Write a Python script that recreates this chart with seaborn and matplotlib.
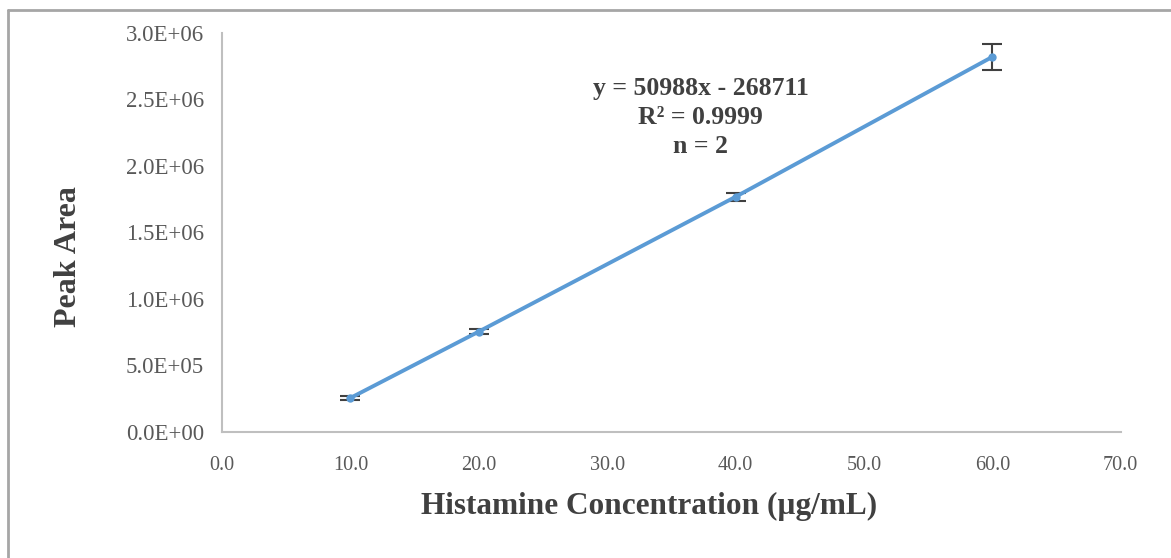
import numpy as np
import pandas as pd
import seaborn as sns
import matplotlib.pyplot as plt
from matplotlib.lines import Line2D

# %% data
conc = [10.0, 20.0, 40.0, 60.0]
peak_area = [2.56e5, 7.55e5, 1.768e6, 2.82e6]
peak_err = [1.2e4, 2.0e4, 3.0e4, 1.0e5]
x_ticks = [0, 10, 20, 30, 40, 50, 60, 70]
y_ticks = [0, 5e5, 1e6, 1.5e6, 2e6, 2.5e6, 3e6]
eq_text = "y = 50988x - 268711\nR\u00b2 = 0.9999\nn = 2"

df = pd.DataFrame({'conc': conc, 'area': peak_area})

# %% plot
sns.set_theme(style='white')
plt.rcParams['font.family'] = ['Liberation Serif', 'DejaVu Serif']

fig = plt.figure(figsize=(11.71, 5.58), dpi=100)
ax = fig.add_axes([0.1896, 0.2258, 0.7674, 0.7151])

blue = '#5B9BD5'
grey_txt = '#595959'

ax.errorbar(df['conc'], df['area'], yerr=peak_err, fmt='none',
            ecolor='#404040', elinewidth=1.5, capsize=7, capthick=1.5, zorder=2)
sns.lineplot(data=df, x='conc', y='area', ax=ax, color=blue, linewidth=2.8,
             marker='o', markersize=6, markeredgewidth=0, zorder=3)

ax.set_xlim(0, 70)
ax.set_ylim(0, 3e6)
ax.set_xticks(x_ticks)
ax.set_xticklabels(['{:.1f}'.format(v) for v in x_ticks])
ax.set_yticks(y_ticks)
ax.set_yticklabels(['{:.1E}'.format(v) for v in y_ticks])
ax.tick_params(axis='both', colors=grey_txt, length=0)
ax.tick_params(axis='x', labelsize=14.5, pad=17)
ax.tick_params(axis='y', labelsize=16.5, pad=13)

for s in ['top', 'right']:
    ax.spines[s].set_visible(False)
for s in ['left', 'bottom']:
    ax.spines[s].set_color('#BFBFBF')
    ax.spines[s].set_linewidth(1.5)

ax.set_xlabel('Histamine Concentration (\u00b5g/mL)', fontsize=22.5, fontweight='bold',
              color='#404040')
ax.xaxis.set_label_coords(0.475, -0.15)
ax.set_ylabel('Peak Area', fontsize=23, fontweight='bold', color='#404040')
ax.yaxis.set_label_coords(-0.155, 0.44)

ax.text(37.3, 2.67e6, eq_text, ha='center', va='top', fontsize=18.5,
        fontweight='bold', color='#404040', linespacing=1.34)

# outer grey frame (left and top edges visible)
fig.add_artist(Line2D([8 / 1171, 8 / 1171], [0, 1 - 10 / 558], transform=fig.transFigure,
                      color='#A6A6A6', linewidth=2))
fig.add_artist(Line2D([8 / 1171, 1], [1 - 10 / 558, 1 - 10 / 558], transform=fig.transFigure,
                      color='#A6A6A6', linewidth=2))

plt.savefig('out.png', dpi=100)
plt.close()
